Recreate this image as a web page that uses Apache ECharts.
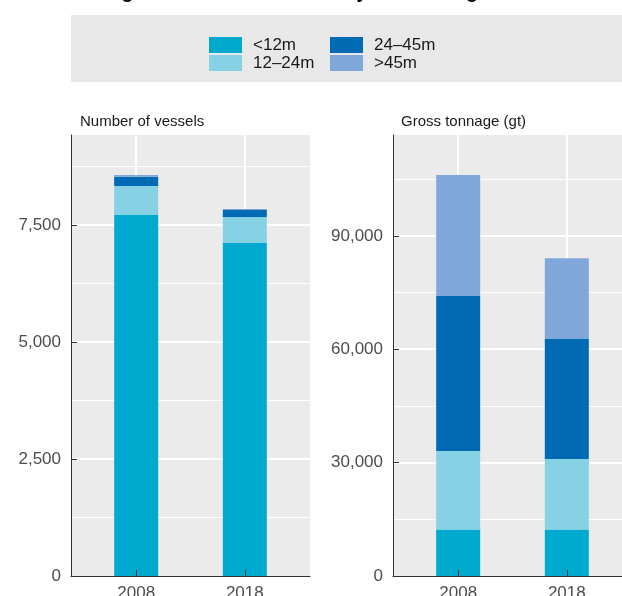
<!DOCTYPE html>
<html><head><meta charset="utf-8">
<script src="https://cdn.jsdelivr.net/npm/echarts@6/dist/echarts.min.js"></script>
<style>html,body{margin:0;padding:0;background:#fff}#c{width:622px;height:596px}</style>
</head><body><div id="c"></div>
<script>
const categories = ['2008', '2018'];
const seriesNames = ['<12m', '12–24m', '24–45m', '>45m'];
const vesselsLt12 = [7714, 7115];
const vessels12to24 = [619, 556];
const vessels24to45 = [199, 150];
const vesselsGt45 = [36, 21];
const gtLt12 = [12300, 12300];
const gt12to24 = [20770, 18650];
const gt24to45 = [41000, 31750];
const gtGt45 = [32000, 21400];
const vesselTicks = [0, 2500, 5000, 7500];
const gtTicks = [0, 30000, 60000, 90000];
const colors = ['#00a9ce', '#86d1e4', '#006ab5', '#7fa7d9'];
const titleText = 'Fishing fleet in 2008 and 2018 by vessel length';
const panelTitles = ['Number of vessels', 'Gross tonnage (gt)'];

const FF = '"Liberation Sans", Arial, sans-serif';
const panels = [
  { values: [vesselsLt12, vessels12to24, vessels24to45, vesselsGt45], ticks: vesselTicks, stack: 'v', left: 71 },
  { values: [gtLt12, gt12to24, gt24to45, gtGt45], ticks: gtTicks, stack: 'g', left: 393 }
];
const catPos = categories.map((c, i) => i + 1);
const fmt = v => Math.round(v).toLocaleString('en-US');
const PW = 239, EXP = 0.6; // panel width, discrete expansion (units)
const unit = PW / (categories.length - 1 + 2 * EXP);

const grids = [], xAxes = [], yAxes = [], series = [];
panels.forEach((p, g) => {
  const totals = categories.map((c, i) => p.values.reduce((s, arr) => s + arr[i], 0));
  const ymax = Math.max(...totals) * 1.1;
  const step = p.ticks[1] - p.ticks[0];
  const bg = grids.length;
  grids.push({ left: p.left, top: 135, width: PW, height: 441, show: true, backgroundColor: '#ebebeb', borderWidth: 0, containLabel: false, outerBoundsMode: 'none' });
  const bw = unit * categories.length;
  const inner = grids.length;
  grids.push({ left: p.left + (EXP - 0.5) * unit, top: 135, width: bw, height: 441, show: false, containLabel: false, outerBoundsMode: 'none' });

  xAxes.push({
    gridIndex: bg, type: 'value', min: 1 - EXP, max: categories.length + EXP, position: 'bottom', z: 5,
    axisLine: { show: true, onZero: false, lineStyle: { color: '#333', width: 1 } },
    axisTick: { show: true, inside: true, length: 6, customValues: catPos, lineStyle: { color: '#333' } },
    axisLabel: { customValues: catPos, formatter: v => categories[Math.round(v) - 1], fontSize: 17, color: '#4d4d4d', margin: 9, fontFamily: FF },
    splitLine: { show: false }
  });
  xAxes.push({
    gridIndex: bg, type: 'value', min: 1 - EXP, max: categories.length + EXP, position: 'bottom', z: 0,
    axisLine: { show: false }, axisTick: { show: false, customValues: catPos },
    axisLabel: { show: false, customValues: catPos },
    splitLine: { show: true, lineStyle: { color: '#fff', width: 2 } }
  });
  const xBar = xAxes.length;
  xAxes.push({
    gridIndex: inner, type: 'category', data: categories, boundaryGap: true,
    axisLine: { show: false }, axisTick: { show: false }, axisLabel: { show: false }, splitLine: { show: false }
  });
  yAxes.push({
    gridIndex: bg, type: 'value', min: 0, max: ymax, interval: step, position: 'left',
    axisLine: { show: true, lineStyle: { color: '#333', width: 1 } },
    axisTick: { show: true, inside: true, length: 6, customValues: p.ticks, lineStyle: { color: '#333' } },
    axisLabel: { customValues: p.ticks, formatter: fmt, fontSize: 17, color: '#4d4d4d', margin: 10, padding: [4, 0, 0, 0], fontFamily: FF },
    splitLine: { show: true, showMinLine: false, lineStyle: { color: '#fff', width: 2 } }
  });
  yAxes.push({
    gridIndex: bg, type: 'value', min: 0, max: ymax, interval: step / 2, position: 'left',
    axisLine: { show: false }, axisTick: { show: false }, axisLabel: { show: false },
    splitLine: { show: true, showMinLine: false, showMaxLine: false, lineStyle: { color: '#fff', width: 1 } }
  });
  const yBar = yAxes.length;
  yAxes.push({
    gridIndex: inner, type: 'value', min: 0, max: ymax,
    axisLine: { show: false }, axisTick: { show: false }, axisLabel: { show: false }, splitLine: { show: false }
  });
  p.values.forEach((arr, k) => {
    series.push({
      type: 'bar', name: seriesNames[k], stack: p.stack,
      xAxisIndex: xBar, yAxisIndex: yBar,
      barWidth: 44, itemStyle: { color: colors[k] },
      data: arr.slice(),
      emphasis: { disabled: true }
    });
  });
});

const legendBase = {
  orient: 'vertical', top: 36.5, padding: 0, itemWidth: 33, itemHeight: 16, itemGap: 1,
  icon: 'rect', selectedMode: false,
  textStyle: { fontSize: 17, lineHeight: 16, color: '#1a1a1a', fontFamily: FF, padding: [0, 0, 0, 6] }
};

const chart = echarts.init(document.getElementById('c'), null, { renderer: 'canvas' });
chart.setOption({
  animation: false,
  textStyle: { fontFamily: FF },
  title: [
    { text: titleText, left: 64, top: -17, padding: 0, textStyle: { fontSize: 19.5, fontWeight: 'bold', color: '#000', fontFamily: FF } },
    { text: panelTitles[0], left: 80, top: 114, padding: 0, textStyle: { fontSize: 15, fontWeight: 'normal', color: '#1a1a1a', fontFamily: FF } },
    { text: panelTitles[1], left: 401, top: 114, padding: 0, textStyle: { fontSize: 15, fontWeight: 'normal', color: '#1a1a1a', fontFamily: FF } }
  ],
  graphic: [{ type: 'rect', left: 71, top: 15, z: -10, shape: { width: 560, height: 67 }, style: { fill: '#e8e8e8' } }],
  legend: [
    Object.assign({}, legendBase, { left: 209, data: seriesNames.slice(0, 2) }),
    Object.assign({}, legendBase, { left: 330, data: seriesNames.slice(2, 4) })
  ],
  grid: grids, xAxis: xAxes, yAxis: yAxes, series: series
});
</script></body></html>
